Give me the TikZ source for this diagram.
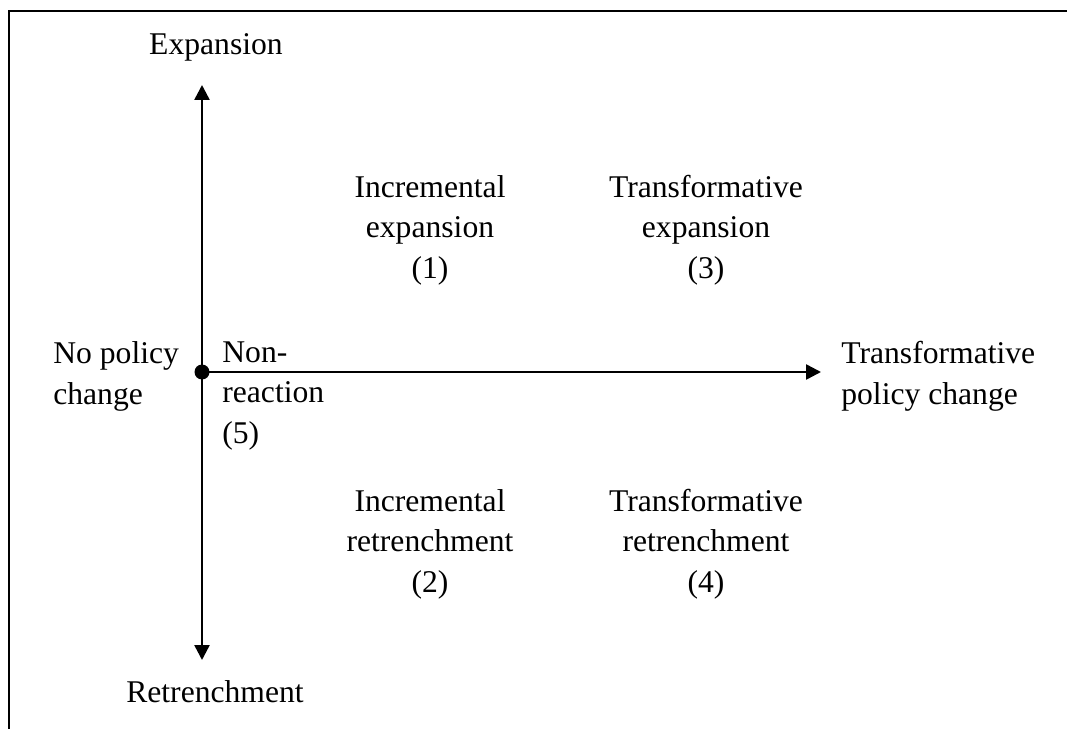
\documentclass[tikz,border=0pt]{standalone}
\usepackage{fontspec}
\setmainfont{Liberation Serif}
\usepackage{tikz}
\usetikzlibrary{arrows.meta}

\begin{document}
\begin{tikzpicture}[x=0.02cm,y=-0.02cm,>={Triangle[length=0.3cm,width=0.3cm]}]
\tikzset{
    lbl/.style={%
        inner sep=0pt,
        font=\fontsize{18}{22.8}\selectfont
        },
    cell/.style={%
        lbl,
        align=center,
        anchor=base
        },
    side/.style={%
        lbl,
        align=left,
        anchor=base west
        },
    axis/.style={%
        ->, line width=0.05cm
        },
}
\useasboundingbox (0,0) rectangle (1067,729);
%%%FRAME
\draw[line width=0.04cm] (9,729) -- (9,11) -- (1067,11);
%%%AXES
\coordinate (o) at (202,372);
\coordinate (up) at (202,85);
\coordinate (down) at (202,660);
\coordinate (right) at (821,372);
\draw[axis] (o) -- (up);
\draw[axis] (o) -- (down);
\draw[axis] (o) -- (right);
\fill[black] (o) circle (0.15cm);
%%%AXIS LABELS (placed at the baseline of the last line)
\node[cell] (expansion) at (216,55) {Expansion};
\node[cell] (retrenchment) at (215,702) {Retrenchment};
\node[side] (nochange) at (53,404) {No policy\\change};
\node[side] (transchange) at (841,404) {Transformative\\policy change};
\node[side] (nonreaction) at (222,443) {Non-\\reaction\\(5)};
%%%QUADRANTS
\node[cell] (incexp) at (430,278) {Incremental\\expansion\\(1)};
\node[cell] (trexp) at (706,278) {Transformative\\expansion\\(3)};
\node[cell] (incret) at (430,592) {Incremental\\retrenchment\\(2)};
\node[cell] (trret) at (706,592) {Transformative\\retrenchment\\(4)};
\end{tikzpicture}
\end{document}
